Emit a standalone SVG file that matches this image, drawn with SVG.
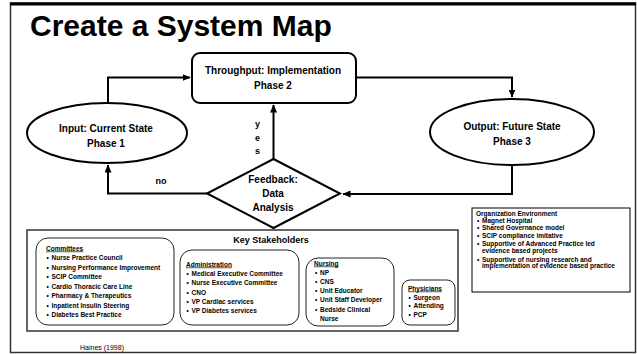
<svg xmlns="http://www.w3.org/2000/svg" width="637" height="354" viewBox="0 0 637 354">
<style>
text{font-family:"Liberation Sans",Arial,sans-serif;font-weight:bold;fill:#000}
.node{font-size:10px;text-anchor:middle}
.sm{font-size:6.5px}
.hd{font-size:6.5px;text-decoration:underline}
.shape{fill:#fff;stroke:#000;stroke-width:2}
.sub{fill:#fff;stroke:#222;stroke-width:1}
.conn{fill:none;stroke:#000;stroke-width:2}
</style>
<defs>
<marker id="ah" markerUnits="userSpaceOnUse" markerWidth="9" markerHeight="8" refX="7.5" refY="3.5" orient="auto">
<path d="M0,0 L8,3.5 L0,7 z" fill="#000"/>
</marker>
</defs>
<rect x="0" y="0" width="637" height="354" fill="#fff"/>
<rect x="10.5" y="3" width="625" height="349.5" fill="#fff" stroke="#333" stroke-width="1.5"/>
<line x1="10" y1="4" x2="636" y2="4" stroke="#000" stroke-width="3"/>
<text x="30" y="36" style="font-size:30px">Create a System Map</text>

<g id="connectors">
<path class="conn" d="M108,103 V77.5 H190" marker-end="url(#ah)"/>
<path class="conn" d="M356,77.5 H512 V97" marker-end="url(#ah)"/>
<path class="conn" d="M512,165 V194 H343" marker-end="url(#ah)"/>
<path class="conn" d="M273.5,159 V105" marker-end="url(#ah)"/>
<path class="conn" d="M207,193.5 H108 V165" marker-end="url(#ah)"/>
<text x="161" y="184" style="font-size:9px" text-anchor="middle">no</text>
<text x="257.5" y="127" style="font-size:9px" text-anchor="middle">y</text>
<text x="257.5" y="140.5" style="font-size:9px" text-anchor="middle">e</text>
<text x="257.5" y="154" style="font-size:9px" text-anchor="middle">s</text>
</g>

<g id="throughput">
<rect class="shape" x="192" y="53" width="164" height="50" rx="8"/>
<text class="node" x="273" y="74">Throughput: Implementation</text>
<text class="node" x="273" y="89">Phase 2</text>
</g>

<g id="input">
<ellipse class="shape" cx="107" cy="133" rx="80" ry="30"/>
<text class="node" x="106" y="131.5">Input: Current State</text>
<text class="node" x="106" y="146.5">Phase 1</text>
</g>

<g id="output">
<ellipse class="shape" cx="512" cy="132" rx="82" ry="33"/>
<text class="node" x="512" y="129.5">Output: Future State</text>
<text class="node" x="512" y="145">Phase 3</text>
</g>

<g id="feedback">
<polygon class="shape" points="207,193.5 273.5,159 340,193.5 273.5,228" stroke-width="2.5"/>
<text class="node" x="273" y="183">Feedback:</text>
<text class="node" x="273" y="197">Data</text>
<text class="node" x="273" y="211">Analysis</text>
</g>

<g id="stakeholders">
<rect x="27" y="230" width="431" height="101" fill="#fff" stroke="#333" stroke-width="1.5"/>
<text x="271" y="243" style="font-size:9px" text-anchor="middle">Key Stakeholders</text>
</g>

<g id="committees">
<rect class="sub" x="36" y="238" width="138" height="87" rx="12"/>
<text class="hd" x="46" y="250.5">Committees</text>
<g class="sm">
<text class="sm" y="260"><tspan x="46.5">•</tspan><tspan x="51.5">Nurse Practice Council</tspan></text>
<text class="sm" y="269.5"><tspan x="46.5">•</tspan><tspan x="51.5">Nursing Performance Improvement</tspan></text>
<text class="sm" y="279"><tspan x="46.5">•</tspan><tspan x="51.5">SCIP Committee</tspan></text>
<text class="sm" y="288.5"><tspan x="46.5">•</tspan><tspan x="51.5">Cardio Thoracic Care Line</tspan></text>
<text class="sm" y="298"><tspan x="46.5">•</tspan><tspan x="51.5">Pharmacy &amp; Therapeutics</tspan></text>
<text class="sm" y="307.5"><tspan x="46.5">•</tspan><tspan x="51.5">Inpatient Insulin Steering</tspan></text>
<text class="sm" y="317"><tspan x="46.5">•</tspan><tspan x="51.5">Diabetes Best Practice</tspan></text>
</g>
</g>

<g id="administration">
<rect class="sub" x="180" y="250" width="119" height="75" rx="12"/>
<text class="hd" x="186" y="266.5">Administration</text>
<text class="sm" y="275.5"><tspan x="186.5">•</tspan><tspan x="191.5">Medical Executive Committee</tspan></text>
<text class="sm" y="285"><tspan x="186.5">•</tspan><tspan x="191.5">Nurse Executive Committee</tspan></text>
<text class="sm" y="294.5"><tspan x="186.5">•</tspan><tspan x="191.5">CNO</tspan></text>
<text class="sm" y="304"><tspan x="186.5">•</tspan><tspan x="191.5">VP Cardiac services</tspan></text>
<text class="sm" y="313"><tspan x="186.5">•</tspan><tspan x="191.5">VP Diabetes services</tspan></text>
</g>

<g id="nursing">
<rect class="sub" x="306" y="258" width="88" height="68" rx="12"/>
<text class="hd" x="314" y="265.5">Nursing</text>
<text class="sm" y="274.5"><tspan x="315">•</tspan><tspan x="320">NP</tspan></text>
<text class="sm" y="283.5"><tspan x="315">•</tspan><tspan x="320">CNS</tspan></text>
<text class="sm" y="293"><tspan x="315">•</tspan><tspan x="320">Unit Educator</tspan></text>
<text class="sm" y="302"><tspan x="315">•</tspan><tspan x="320">Unit Staff Developer</tspan></text>
<text class="sm" y="311.5"><tspan x="315">•</tspan><tspan x="320">Bedside Clinical</tspan></text>
<text class="sm" y="320.5"><tspan x="320">Nurse</tspan></text>
</g>

<g id="physicians">
<rect class="sub" x="402" y="280" width="53" height="45" rx="8"/>
<text class="hd" x="408" y="290.5">Physicians</text>
<text class="sm" y="299.5"><tspan x="408.5">•</tspan><tspan x="413.5">Surgeon</tspan></text>
<text class="sm" y="308"><tspan x="408.5">•</tspan><tspan x="413.5">Attending</tspan></text>
<text class="sm" y="317"><tspan x="408.5">•</tspan><tspan x="413.5">PCP</tspan></text>
</g>

<g id="organization">
<rect x="472" y="208" width="158" height="84" fill="#fff" stroke="#000" stroke-width="1"/>
<text class="sm" x="476" y="215.5">Organization Environment</text>
<text class="sm" y="222.5"><tspan x="477">•</tspan><tspan x="482">Magnet Hospital</tspan></text>
<text class="sm" y="230"><tspan x="477">•</tspan><tspan x="482">Shared Governance model</tspan></text>
<text class="sm" y="238"><tspan x="477">•</tspan><tspan x="482">SCIP compliance imitative</tspan></text>
<text class="sm" y="246.3"><tspan x="477">•</tspan><tspan x="482">Supportive of Advanced Practice led</tspan></text>
<text class="sm" y="253.3"><tspan x="482">evidence based projects</tspan></text>
<text class="sm" y="261.6"><tspan x="477">•</tspan><tspan x="482">Supportive of nursing research and</tspan></text>
<text class="sm" y="268.3"><tspan x="482">implementation of evidence based practice</tspan></text>
</g>

<text x="102" y="350" text-anchor="middle" style="font-size:7px;font-weight:normal">Haines (1998)</text>
</svg>
